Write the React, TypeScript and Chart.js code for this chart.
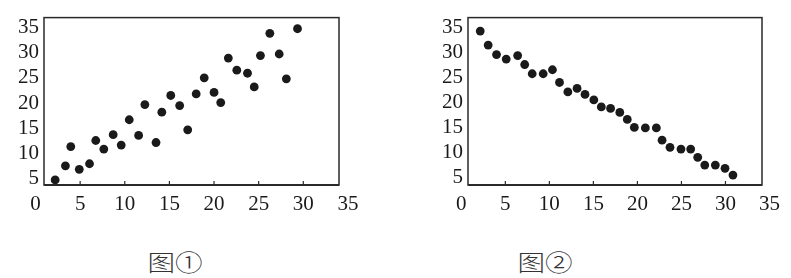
import React, { useEffect, useRef } from "react";
import { Chart, registerables } from "chart.js";

Chart.register(...registerables);

const xTickValues = [0, 5, 10, 15, 20, 25, 30, 35];
const yTickValues = [5, 10, 15, 20, 25, 30, 35];

const fig1X = [2.2, 3.35, 3.95, 4.9, 6.05, 6.75, 7.65, 8.7, 9.6, 10.5, 11.55, 12.25, 13.5, 14.15, 15.15, 16.15, 17.05, 18.0, 18.9, 20.0, 20.75, 21.6, 22.55, 23.75, 24.5, 25.2, 26.25, 27.3, 28.1, 29.35];
const fig1Y = [4.8, 7.6, 11.4, 6.9, 8.0, 12.6, 10.9, 13.75, 11.7, 16.7, 13.6, 19.7, 12.2, 18.2, 21.5, 19.5, 14.7, 21.8, 25.0, 22.1, 20.1, 28.9, 26.5, 25.9, 23.2, 29.4, 33.8, 29.7, 24.8, 34.7];

const fig2X = [2.15, 3.05, 4.0, 5.1, 6.4, 7.2, 8.05, 9.3, 10.35, 11.15, 12.1, 13.15, 14.05, 15.05, 15.9, 16.95, 18.0, 18.85, 19.65, 20.9, 22.15, 22.8, 23.7, 24.95, 26.05, 26.85, 27.65, 28.85, 29.95, 30.85];
const fig2Y = [34.3, 31.5, 29.6, 28.7, 29.4, 27.6, 25.75, 25.75, 26.55, 24.0, 22.1, 22.8, 21.6, 20.5, 19.1, 18.8, 18.0, 16.6, 15.0, 14.9, 14.9, 12.45, 11.0, 10.65, 10.65, 9.0, 7.45, 7.45, 6.8, 5.45];

const captions = ["图①", "图②"];

const INK = "#1a1a1a";
const TICK_FONT = { family: "'Liberation Serif', 'Times New Roman', serif", size: 21 };

const framePlugin = {
  id: "frame",
  afterDraw(chart: any) {
    const { ctx, chartArea: a, scales } = chart;
    ctx.save();
    ctx.strokeStyle = "#2a2a2a";
    ctx.lineWidth = 1.5;
    ctx.strokeRect(a.left, a.top, a.right - a.left, a.bottom - a.top);
    ctx.lineWidth = 2;
    ctx.beginPath();
    ctx.moveTo(a.left, a.bottom);
    ctx.lineTo(a.right, a.bottom);
    ctx.stroke();
    ctx.lineWidth = 1.2;
    for (const t of scales.x.ticks) {
      const p = scales.x.getPixelForValue(t.value);
      if (p > a.left + 2 && p < a.right - 2) {
        ctx.beginPath();
        ctx.moveTo(p, a.bottom);
        ctx.lineTo(p, a.bottom - 4);
        ctx.stroke();
      }
    }
    ctx.restore();
  },
};

type PanelProps = {
  xs: number[];
  ys: number[];
  xMin: number;
  xMax: number;
  yMin: number;
  yMax: number;
  padLeft: number;
  padRight: number;
};

function Panel({ xs, ys, xMin, xMax, yMin, yMax, padLeft, padRight }: PanelProps) {
  const ref = useRef<HTMLCanvasElement | null>(null);
  useEffect(() => {
    if (!ref.current) return;
    const chart = new Chart(ref.current, {
      type: "scatter",
      data: {
        datasets: [
          {
            data: xs.map((x, i) => ({ x, y: ys[i] })),
            backgroundColor: INK,
            borderWidth: 0,
            pointRadius: 4.4,
            pointHoverRadius: 4.4,
          },
        ],
      },
      options: {
        animation: false,
        responsive: true,
        maintainAspectRatio: false,
        layout: { padding: { top: 17, right: padRight, left: padLeft, bottom: 0 } },
        plugins: { legend: { display: false }, tooltip: { enabled: false } },
        scales: {
          x: {
            type: "linear",
            min: xMin,
            max: xMax,
            afterBuildTicks: (s: any) => {
              s.ticks = xTickValues.map((v) => ({ value: v }));
            },
            afterFit: (s: any) => {
              s.height = 33;
            },
            grid: { display: false, drawTicks: false },
            border: { display: false },
            ticks: {
              font: TICK_FONT,
              color: INK,
              padding: 7,
              maxRotation: 0,
              autoSkip: false,
            },
          },
          y: {
            type: "linear",
            min: yMin,
            max: yMax,
            afterBuildTicks: (s: any) => {
              s.ticks = yTickValues.map((v) => ({ value: v }));
            },
            afterFit: (s: any) => {
              s.width = 44;
            },
            grid: { display: false, drawTicks: false },
            border: { display: false },
            ticks: {
              font: TICK_FONT,
              color: INK,
              padding: 5,
              autoSkip: false,
            },
          },
        },
      },
      plugins: [framePlugin],
    });
    return () => chart.destroy();
  }, []);
  return <canvas ref={ref} />;
}

export default function App() {
  return (
    <div style={{ position: "absolute", left: 0, top: 0, width: 791, height: 278, background: "#fff", overflow: "hidden" }}>
      <div style={{ position: "absolute", left: 0, top: 0, width: 395, height: 218 }}>
        <Panel xs={fig1X} ys={fig1Y} xMin={0.95} xMax={34.0} yMin={3.8} yMax={36.9} padLeft={0} padRight={56} />
      </div>
      <div style={{ position: "absolute", left: 400, top: 0, width: 391, height: 218 }}>
        <Panel xs={fig2X} ys={fig2Y} xMin={0.76} xMax={34.15} yMin={3.46} yMax={37.0} padLeft={24} padRight={29} />
      </div>
      {captions.map((c, i) => (
        <div
          key={c}
          style={{
            position: "absolute",
            left: i === 0 ? 175 : 545,
            top: 261,
            transform: "translate(-50%, -50%) scaleX(1.2)",
            fontFamily: "'Noto Sans CJK SC', sans-serif",
            fontSize: 23,
            fontWeight: 300,
            color: "#333",
            whiteSpace: "nowrap",
            lineHeight: 1,
          }}
        >
          {c}
        </div>
      ))}
    </div>
  );
}
